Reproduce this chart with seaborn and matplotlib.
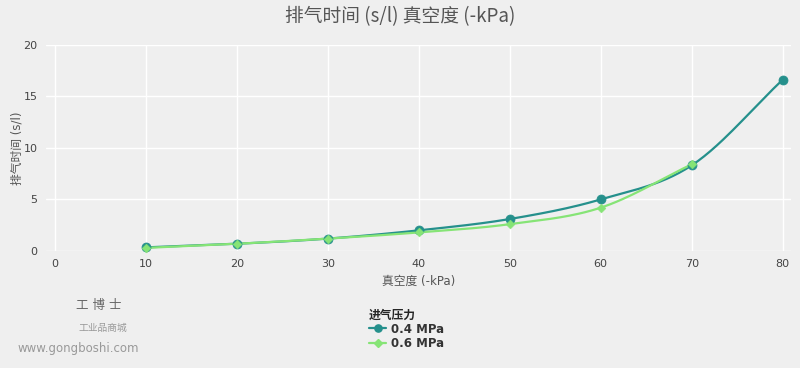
import numpy as np
import pandas as pd
import seaborn as sns
import matplotlib.pyplot as plt
from matplotlib.lines import Line2D

# data
vacuum_04 = [10, 20, 30, 40, 50, 60, 70, 80]
time_04 = [0.35, 0.7, 1.2, 2.0, 3.1, 5.0, 8.3, 16.6]
vacuum_06 = [10, 20, 30, 40, 50, 60, 70]
time_06 = [0.3, 0.7, 1.2, 1.8, 2.6, 4.2, 8.4]
series_names = ["0.4 MPa", "0.6 MPa"]
colors = ["#25908c", "#86e476"]

sns.set_theme(style="darkgrid")
plt.rcParams['font.family'] = ['DejaVu Sans', 'Noto Sans CJK SC']
bg = "#efefef"


def catmull(x, y, n=30):
    # smooth drawing path through the points (visual only)
    x = np.asarray(x, float); y = np.asarray(y, float)
    px = np.r_[2 * x[0] - x[1], x, 2 * x[-1] - x[-2]]
    py = np.r_[2 * y[0] - y[1], y, 2 * y[-1] - y[-2]]
    xs, ys = [], []
    t = np.linspace(0, 1, n)
    for i in range(1, len(px) - 2):
        for p, out in ((px, xs), (py, ys)):
            p0, p1, p2, p3 = p[i - 1], p[i], p[i + 1], p[i + 2]
            out.extend(0.5 * (2 * p1 + (-p0 + p2) * t + (2 * p0 - 5 * p1 + 4 * p2 - p3) * t ** 2
                              + (-p0 + 3 * p1 - 3 * p2 + p3) * t ** 3))
    return xs, ys


fig = plt.figure(figsize=(8, 3.68), dpi=100, facecolor=bg)
ax = fig.add_axes([0.0575, 0.318, 0.931, 0.5605])
ax.set_facecolor(bg)
ax.grid(color="white", linewidth=1)

pts = pd.concat([
    pd.DataFrame({"x": vacuum_04, "y": time_04, "s": series_names[0]}),
    pd.DataFrame({"x": vacuum_06, "y": time_06, "s": series_names[1]}),
])
handles = []
for name, col, mk, ms in zip(series_names, colors, ["o", "D"], [6.5, 4.5]):
    d = pts[pts["s"] == name]
    sx, sy = catmull(d["x"], d["y"])
    ax.plot(sx, sy, color=col, linewidth=1.6, zorder=3)
    sns.scatterplot(x=d["x"], y=d["y"], marker=mk, s=ms ** 2, color=col, edgecolor=col,
                    zorder=4, clip_on=False, ax=ax, legend=False)
    handles.append(Line2D([], [], color=col, linewidth=1.6, marker=mk,
                          markersize=ms * 0.8, label=name))

ax.set_xlim(-1, 80.9)
ax.set_ylim(0, 20)
ax.set_xticks(range(0, 81, 10))
ax.set_yticks(range(0, 21, 5))
ax.tick_params(labelsize=8, colors="#444444", length=0, pad=6)
ax.set_xlabel("真空度 (-kPa)", fontsize=8.5, color="#555555", labelpad=4)
ax.set_ylabel("排气时间 (s/l)", fontsize=8.5, color="#555555", labelpad=0)
for s in ax.spines.values():
    s.set_visible(False)

fig.text(0.5, 0.955, "排气时间 (s/l) 真空度 (-kPa)", ha="center", va="center",
         fontsize=13.5, color="#555555", family=['Noto Sans CJK SC', 'DejaVu Sans'])

leg = fig.legend(handles=handles, loc="upper left", bbox_to_anchor=(0.455, 0.175),
                 frameon=False, title="进气压力", fontsize=8.5, handlelength=1.5,
                 handletextpad=0.4, labelspacing=0.1, borderaxespad=0)
leg.get_title().set_fontsize(8.5)
leg.get_title().set_fontweight("bold")
leg._legend_box.align = "left"
for t in leg.get_texts():
    t.set_fontweight("bold")
    t.set_color("#333333")

# watermark text
fig.text(0.095, 0.17, "工 博 士", fontsize=9, color="#666666", ha="left", va="center")
fig.text(0.098, 0.11, "工业品商城", fontsize=7, color="#999999", ha="left", va="center")
fig.text(0.022, 0.053, "www.gongboshi.com", fontsize=8.5, color="#999999", ha="left", va="center")

fig.savefig("out.png", dpi=100, facecolor=bg)
